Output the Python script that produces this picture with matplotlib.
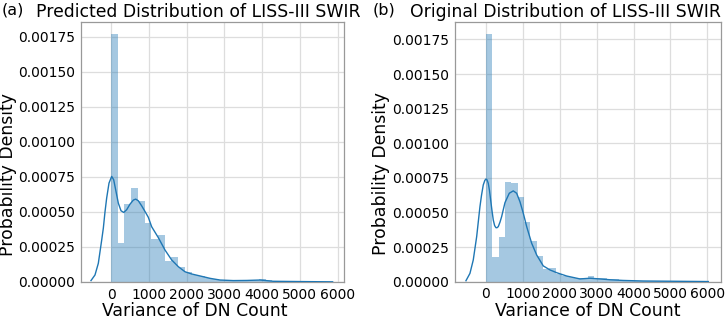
import numpy as np
import matplotlib
matplotlib.use("Agg")
import matplotlib.pyplot as plt
from matplotlib.ticker import FormatStrFormatter

# histogram bins (bin width, count) and densities
pred_bin_width = 178
pred_heights = [0.001766, 0.000278, 0.000555, 0.000669, 0.000577, 0.000420,
                0.000306, 0.000335, 0.000150, 0.000178, 0.000107, 0.000071,
                0.000050, 0.000045, 0.000030, 0.000020, 0.000015, 0.000012,
                0.000010, 0.000010, 0.000010, 0.000015, 0.000018, 0.000012,
                0.000008, 0.000005, 0.000004, 0.000004, 0.000003, 0.000003,
                0.000003, 0.000002, 0.000003]

orig_bin_width = 172
orig_heights = [0.001786, 0.000176, 0.000325, 0.000721, 0.000711, 0.000610,
                0.000429, 0.000294, 0.000186, 0.000092, 0.000101, 0.000053,
                0.000041, 0.000035, 0.000030, 0.000028, 0.000040, 0.000030,
                0.000025, 0.000020, 0.000020, 0.000012, 0.000008, 0.000007,
                0.000005, 0.000005, 0.000004, 0.000004, 0.000003, 0.000003,
                0.000003, 0.000002, 0.000002, 0.000002, 0.000003]

# kde curves (x, density)
pred_kde_x = [-530, -424, -336, -246, -203, -159, -115, -53, 18, 71, 124, 194,
              265, 336, 415, 503, 592, 654, 724, 812, 900, 989, 1077, 1254,
              1430, 1607, 1784, 1960, 2137, 2358, 2623, 2887, 3240, 3600,
              3947, 4300, 5000, 5870]
pred_kde_y = [0.000010, 0.000050, 0.000133, 0.000300, 0.000384, 0.000500,
              0.000598, 0.000705, 0.000753, 0.000729, 0.000657, 0.000562,
              0.000508, 0.000496, 0.000515, 0.000555, 0.000584, 0.000591,
              0.000579, 0.000543, 0.000503, 0.000461, 0.000394, 0.000316,
              0.000228, 0.000157, 0.000109, 0.000073, 0.000057, 0.000043,
              0.000026, 0.000014, 0.000010, 0.000011, 0.000014, 0.000005,
              0.000003, 0.000001]

orig_kde_x = [-542, -434, -344, -252, -163, -120, -73, -30, 0, 30, 62, 95,
              127, 160, 198, 235, 271, 300, 334, 380, 425, 515, 632, 740,
              831, 921, 1011, 1103, 1238, 1374, 1553, 1734, 1916, 2187, 2547,
              2818, 3089, 3360, 3721, 4263, 5168, 6024]
orig_kde_y = [0.000007, 0.000060, 0.000157, 0.000325, 0.000542, 0.000625,
              0.000699, 0.000732, 0.000742, 0.000735, 0.000711, 0.000660,
              0.000590, 0.000520, 0.000446, 0.000405, 0.000390, 0.000390,
              0.000398, 0.000430, 0.000470, 0.000571, 0.000639, 0.000656,
              0.000639, 0.000578, 0.000495, 0.000398, 0.000278, 0.000193,
              0.000114, 0.000085, 0.000065, 0.000041, 0.000020, 0.000025,
              0.000020, 0.000014, 0.000009, 0.000005, 0.000003, 0.000001]

x_ticks = [0, 1000, 2000, 3000, 4000, 5000, 6000]
y_ticks = [0, 0.00025, 0.0005, 0.00075, 0.001, 0.00125, 0.0015, 0.00175]

BLUE = "#1f77b4"

fig = plt.figure(figsize=(7.27, 3.2), dpi=100)
ax_a = fig.add_axes([0.1114, 0.1188, 0.3618, 0.8125])
ax_b = fig.add_axes([0.6254, 0.1197, 0.3659, 0.8116])

panels = [
    (ax_a, pred_bin_width, pred_heights, pred_kde_x, pred_kde_y,
     (-795, 6172), 0.001854, "Predicted Distribution of LISS-III SWIR", 0.444, 0.433),
    (ax_b, orig_bin_width, orig_heights, orig_kde_x, orig_kde_y,
     (-848, 6360), 0.001876, "Original Distribution of LISS-III SWIR", 0.418, 0.502),
]

for ax, bw, heights, kx, ky, xlim, ytop, title, title_x, xlab_x in panels:
    left_edges = np.arange(len(heights)) * bw
    ax.bar(left_edges, heights, width=bw, align="edge", color=BLUE, alpha=0.4,
           linewidth=0, zorder=2)
    ax.plot(kx, ky, color=BLUE, linewidth=1.0, zorder=3)

    ax.set_xlim(*xlim)
    ax.set_ylim(0, ytop)
    ax.set_xticks(x_ticks)
    ax.set_yticks(y_ticks)
    ax.yaxis.set_major_formatter(FormatStrFormatter("%.5f"))
    ax.tick_params(length=0, labelsize=10, pad=4)
    ax.grid(True, color="#dddddd", linewidth=0.9, zorder=0)
    ax.set_axisbelow(True)
    for s in ax.spines.values():
        s.set_color("#999999")
        s.set_linewidth(0.9)

    ax.set_xlabel("Variance of DN Count", fontsize=12.4)
    ax.xaxis.set_label_coords(xlab_x, -0.077)
    ax.set_ylabel("Probability Density", fontsize=12.4)
    ax.yaxis.set_label_coords(-0.243, 0.415)

    ax.text(title_x, 1.02, title, transform=ax.transAxes, ha="center",
            va="baseline", fontsize=12.4)

# panel tags
fig.text(0.002, 0.955, "(a)", fontsize=11.5, va="baseline")
fig.text(0.513, 0.955, "(b)", fontsize=11.5, va="baseline")

fig.savefig("out.png", dpi=100)
